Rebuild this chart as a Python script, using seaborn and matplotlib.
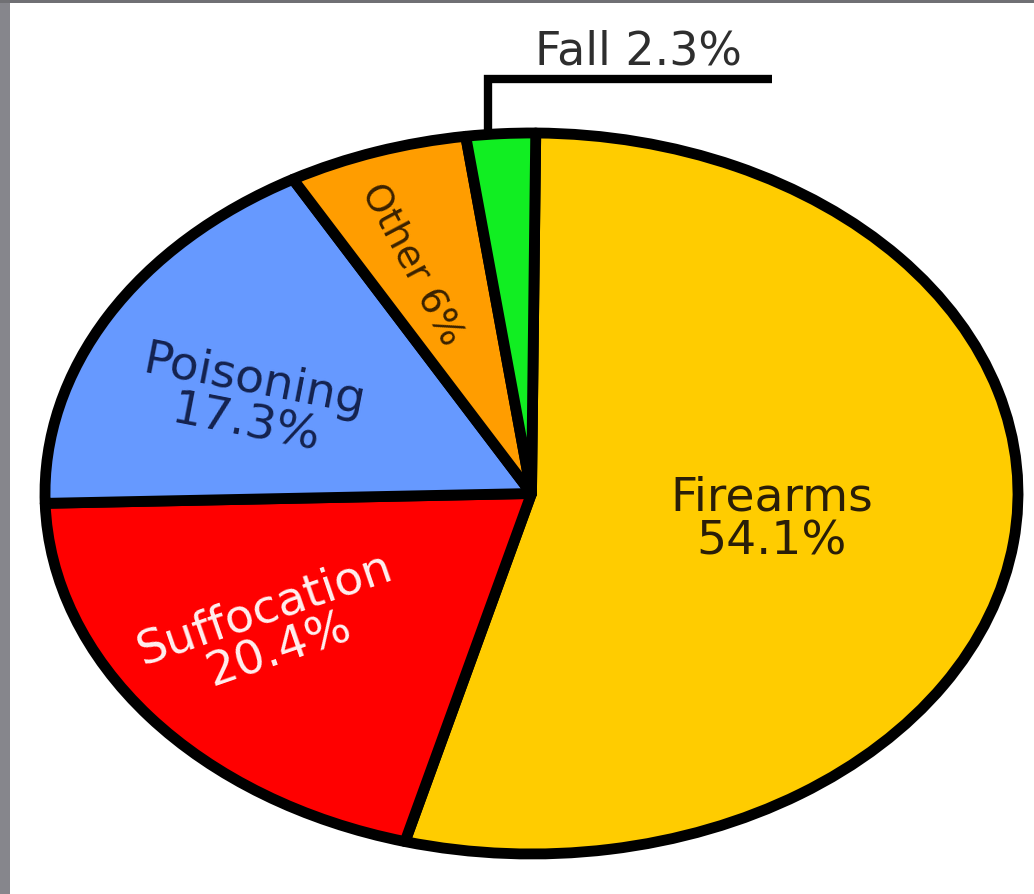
import numpy as np
import seaborn as sns
import matplotlib.pyplot as plt
from matplotlib.patches import Rectangle

# Datos del grafico
categories = ['Firearms', 'Suffocation', 'Poisoning', 'Other', 'Fall']
shares = [54.1, 20.4, 17.3, 6.0, 2.3]
labels = ['Firearms\n54.1%', 'Suffocation\n20.4%', 'Poisoning\n17.3%', 'Other 6%', 'Fall 2.3%']
colors = ['#FFCC00', '#FF0000', '#6699FF', '#FF9D00', '#11EE22']

sns.set_theme(style='white')
plt.rcParams['font.family'] = ['DejaVu Sans']

fig = plt.figure(figsize=(10.34, 8.95), dpi=100)
fig.patch.set_facecolor('white')
ax = fig.add_axes([0, 0, 1, 1])

wedges, _ = ax.pie(shares, colors=colors, startangle=89.5, counterclock=False,
                   radius=1.0, center=(0, 0),
                   wedgeprops=dict(edgecolor='black', linewidth=7.8,
                                   joinstyle='round'))

# elipse: ejes sin aspecto igual
ax.set_aspect('auto')
ax.set_xlim(-1.0925, 1.0329)
ax.set_ylim(-1.111, 1.3717)
ax.axis('off')

# etiquetas dentro de las porciones
ax.text(0.494, -0.071, labels[0], ha='center', va='center', fontsize=34,
        color='#2a1e08', linespacing=0.95)
ax.text(-0.533, -0.376, labels[1], ha='center', va='center', fontsize=34,
        color='#fff0f0', rotation=19, linespacing=0.95, rotation_mode='anchor')
ax.text(-0.579, 0.254, labels[2], ha='center', va='center', fontsize=34,
        color='#14224e', rotation=-11, linespacing=0.95, rotation_mode='anchor')
ax.text(-0.246, 0.637, labels[3], ha='center', va='center', fontsize=27,
        color='#3a2200', rotation=-62, rotation_mode='anchor')

# linea guia para Fall
w = wedges[4]
mid = np.deg2rad((w.theta1 + w.theta2) / 2)
x0 = np.cos(mid) - 0.025
ax.plot([x0, x0, 0.494], [np.sin(mid), 1.15, 1.15], color='black', lw=6,
        solid_joinstyle='miter', solid_capstyle='butt', clip_on=False)
ax.text(0.219, 1.228, labels[4], ha='center', va='center', fontsize=33,
        color='#2e2e2e')

# marco gris
fig.patches.append(Rectangle((0, 0), 10 / 1034, 1, transform=fig.transFigure,
                             facecolor='#86868c', edgecolor='none', zorder=10))
fig.patches.append(Rectangle((0, 1 - 4 / 895), 1, 4 / 895, transform=fig.transFigure,
                             facecolor='#707074', edgecolor='none', zorder=10))

fig.savefig('out.png', dpi=100)
